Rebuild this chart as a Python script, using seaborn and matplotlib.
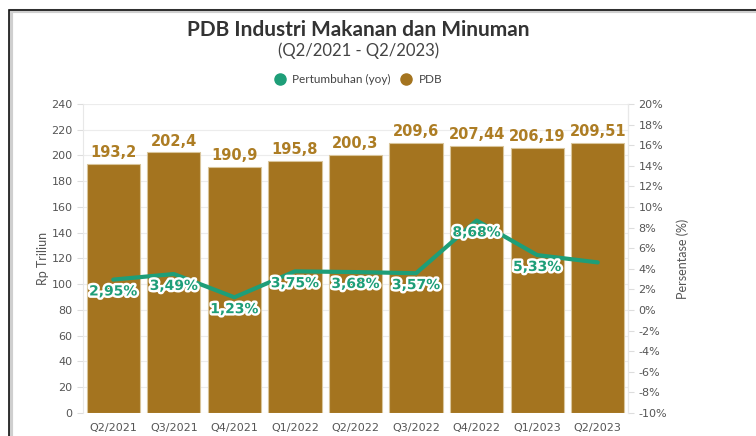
import matplotlib
matplotlib.use("Agg")
import matplotlib.pyplot as plt
import matplotlib.patheffects as pe
from matplotlib.lines import Line2D
from matplotlib.patches import Rectangle
import numpy as np
import pandas as pd
import seaborn as sns

quarters = ['Q2/2021', 'Q3/2021', 'Q4/2021', 'Q1/2022', 'Q2/2022',
            'Q3/2022', 'Q4/2022', 'Q1/2023', 'Q2/2023']
pdb = [193.2, 202.4, 190.9, 195.8, 200.3, 209.6, 207.44, 206.19, 209.51]
pdb_labels = ['193,2', '202,4', '190,9', '195,8', '200,3', '209,6', '207,44', '206,19', '209,51']
growth = [2.95, 3.49, 1.23, 3.75, 3.68, 3.57, 8.68, 5.33, 4.62]
growth_labels = ['2,95%', '3,49%', '1,23%', '3,75%', '3,68%', '3,57%', '8,68%', '5,33%', '']

bar_color = '#A4741F'
bar_text = '#AD7D24'
green = '#1E9E78'
tick_color = '#555555'

sns.set_style('white')
plt.rcParams['font.family'] = ['DejaVu Sans']

df = pd.DataFrame({'quarter': quarters, 'pdb': pdb, 'growth': growth})

fig = plt.figure(figsize=(7.56, 4.36), dpi=100)
ax = fig.add_axes([0.1098, 0.0528, 0.7209, 0.7087])

sns.barplot(data=df, x='quarter', y='pdb', color=bar_color, saturation=1,
            width=0.88, edgecolor='#d9c59b', linewidth=0.8, ax=ax, zorder=2)
ax.set_ylim(0, 240)
ax.set_yticks(np.arange(0, 241, 20))
ax.set_xlim(-0.5, len(quarters) - 0.5)
ax.grid(axis='y', color='#ececec', linewidth=0.8, zorder=0)
ax.set_axisbelow(True)
ax.set_xlabel('')
ax.set_ylabel('Rp Triliun', fontsize=9, color=tick_color, labelpad=2, family='Lato')
ax.tick_params(axis='both', labelsize=8, colors='#dddddd', labelcolor=tick_color,
               length=4, width=0.8)
ax.tick_params(axis='x', pad=3)
for s in ['top', 'bottom']:
    ax.spines[s].set_visible(False)
for s in ['left', 'right']:
    ax.spines[s].set_color('#e8e8e8')

for i, (v, lab) in enumerate(zip(pdb, pdb_labels)):
    ax.text(i, v + 3, lab, ha='center', va='bottom', fontsize=10.5,
            fontweight='bold', color=bar_text, zorder=5)

ax2 = ax.twinx()
sns.lineplot(x=np.arange(len(quarters)), y=growth, color=green, linewidth=3,
             ax=ax2, zorder=4)
ax2.set_ylim(-10, 20)
ax2.set_yticks(np.arange(-10, 21, 2))
ax2.set_yticklabels([f'{t}%' for t in range(-10, 21, 2)])
ax2.set_ylabel('Persentase (%)', fontsize=9, color=tick_color, labelpad=7, family='Lato')
ax2.tick_params(axis='y', labelsize=8, colors='#dddddd', labelcolor=tick_color,
                length=4, width=0.8)
for s in ['top', 'bottom', 'left']:
    ax2.spines[s].set_visible(False)
ax2.spines['right'].set_color('#e8e8e8')

for i, (v, lab) in enumerate(zip(growth, growth_labels)):
    if not lab:
        continue
    ax2.text(i, v - 1.15, lab, ha='center', va='center', fontsize=10,
             fontweight='bold', color=green, zorder=6,
             path_effects=[pe.withStroke(linewidth=3.5, foreground='white')])

fig.text(0.474, 0.932, 'PDB Industri Makanan dan Minuman', ha='center', va='center',
         fontsize=15, fontweight='bold', color='#333333', family='Lato')
fig.text(0.474, 0.884, '(Q2/2021 - Q2/2023)', ha='center', va='center',
         fontsize=12, color='#444444', family='Lato')

handles = [Line2D([], [], marker='o', linestyle='', markersize=8,
                  markerfacecolor=green, markeredgecolor=green),
           Line2D([], [], marker='o', linestyle='', markersize=8,
                  markerfacecolor=bar_color, markeredgecolor=bar_color)]
fig.legend(handles, ['Pertumbuhan (yoy)', 'PDB'], loc='center',
           bbox_to_anchor=(0.47, 0.817), ncol=2, frameon=False,
           prop={'family': 'Lato', 'size': 8.5},
           handletextpad=0.1, columnspacing=0.3, labelcolor='#444444')

# outer card border with shadow
fig.add_artist(Rectangle((0.014, -0.05), 1.1, 1.025, transform=fig.transFigure,
                         fill=False, edgecolor='#cfcfcf', linewidth=3))
fig.add_artist(Rectangle((0.012, -0.05), 1.1, 1.027, transform=fig.transFigure,
                         fill=False, edgecolor='#111111', linewidth=1.2))

fig.savefig('out.png', dpi=100)
